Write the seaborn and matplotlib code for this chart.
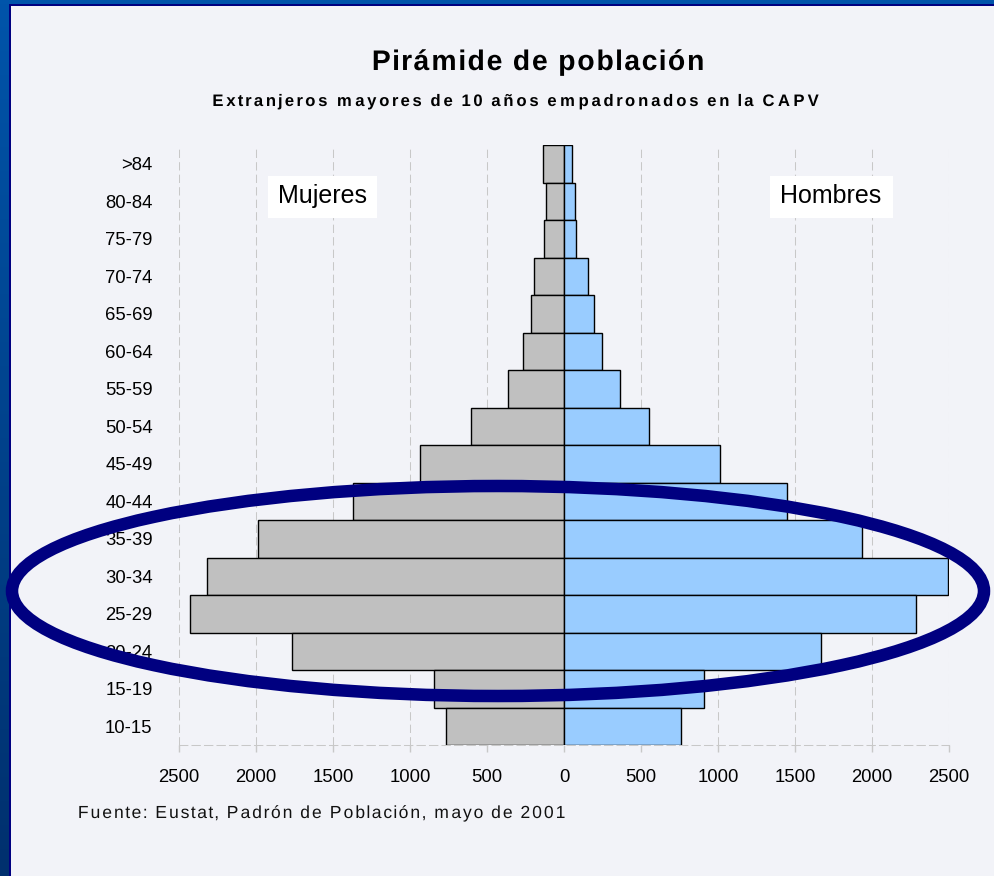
import numpy as np
import pandas as pd
import matplotlib
matplotlib.use("Agg")
import matplotlib.pyplot as plt
from matplotlib.patches import Ellipse, Rectangle
from matplotlib.path import Path
from matplotlib.transforms import Affine2D
from matplotlib.patheffects import AbstractPathEffect
from matplotlib.colors import LinearSegmentedColormap
import seaborn as sns

# ---- data ----
ages = [">84", "80-84", "75-79", "70-74", "65-69", "60-64", "55-59", "50-54",
        "45-49", "40-44", "35-39", "30-34", "25-29", "20-24", "15-19", "10-15"]
mujeres = [134, 119, 132, 193, 214, 266, 364, 604, 937, 1368, 1987, 2320, 2426, 1764, 844, 768]
hombres = [50, 71, 80, 156, 197, 249, 364, 550, 1015, 1446, 1937, 2494, 2283, 1667, 911, 762]
xticks = [-2500, -2000, -1500, -1000, -500, 0, 500, 1000, 1500, 2000, 2500]
xtick_labels = ["2500", "2000", "1500", "1000", "500", "0", "500", "1000", "1500", "2000", "2500"]

title = "Pirámide de población"
subtitle = "Extranjeros mayores de 10 años empadronados en la CAPV"
source = "Fuente: Eustat, Padrón de Población, mayo de 2001"
label_left = "Mujeres"
label_right = "Hombres"


class LetterSpread(AbstractPathEffect):
    """Spreads glyph contours horizontally (letter spacing) from the left edge."""

    def __init__(self, factor):
        super().__init__()
        self.factor = factor

    def draw_path(self, renderer, gc, tpath, affine, rgbFace=None):
        p = affine.transform_path(tpath)
        verts = p.vertices.copy()
        codes = p.codes
        if codes is None or len(verts) == 0:
            renderer.draw_path(gc, p, Affine2D(), rgbFace)
            return
        valid = codes != Path.CLOSEPOLY
        x0 = verts[valid, 0].min()
        starts = list(np.nonzero(codes == Path.MOVETO)[0]) + [len(codes)]
        for a, b in zip(starts[:-1], starts[1:]):
            seg = np.arange(a, b)
            sv = seg[valid[a:b]]
            if len(sv) == 0:
                continue
            cx = 0.5 * (verts[sv, 0].min() + verts[sv, 0].max())
            verts[seg, 0] += (self.factor - 1.0) * (cx - x0)
        renderer.draw_path(gc, Path(verts, codes), Affine2D(), rgbFace)


sns.set_theme(style="white")
plt.rcParams["font.family"] = ["Liberation Sans", "DejaVu Sans"]

W, H = 995, 876
fig = plt.figure(figsize=(W / 100, H / 100), dpi=100)
fig.patch.set_facecolor("#F2F3F8")

# background frame (pixel coords)
bg = fig.add_axes([0, 0, 1, 1], zorder=-5)
bg.axis("off")
grad = np.linspace(0, 1, 256).reshape(-1, 1)
cmap = LinearSegmentedColormap.from_list("frame", ["#0054AA", "#00306E"])
bg.imshow(grad, cmap=cmap, extent=[0, 9, H, 0], aspect="auto", zorder=1)
bg.add_patch(Rectangle((0, 0), W, 4, color="#0054AA", lw=0, zorder=1))
bg.add_patch(Rectangle((9, 4), 2, H, color="#000080", lw=0, zorder=2))
bg.add_patch(Rectangle((9, 4), W, 2, color="#000080", lw=0, zorder=2))
bg.set_xlim(0, W)
bg.set_ylim(H, 0)

# main axes
ax = fig.add_axes([179 / W, (H - 745) / H, 770 / W, 600 / H], zorder=1)
ax.set_facecolor("none")

df_m = pd.DataFrame({"edad": ages, "valor": -np.array(mujeres)})
df_h = pd.DataFrame({"edad": ages, "valor": np.array(hombres)})
sns.barplot(data=df_m, x="valor", y="edad", order=ages, orient="h", color="#C0C0C0",
            saturation=1, width=1.0, edgecolor="black", linewidth=1.0, ax=ax)
sns.barplot(data=df_h, x="valor", y="edad", order=ages, orient="h", color="#99CCFF",
            saturation=1, width=1.0, edgecolor="black", linewidth=1.0, ax=ax)

ax.set_xlim(-2500, 2500)
ax.set_ylim(len(ages) - 0.5, -0.5)
ax.set_xlabel("")
ax.set_ylabel("")
ax.set_xticks(xticks)
ax.set_xticklabels(xtick_labels)
ax.tick_params(axis="x", length=5, width=1, color="#C8C8C8", pad=12, labelsize=13.3,
               labelcolor="black", bottom=True)
ax.tick_params(axis="y", length=0, pad=19, labelsize=13.3, labelcolor="black")
ax.set_axisbelow(True)
ax.xaxis.grid(True, color="#C8C8C8", lw=0.75, linestyle=(0, (8, 4)))
ax.yaxis.grid(False)
for s in ["top", "right", "left"]:
    ax.spines[s].set_visible(False)
ax.spines["bottom"].set_color("#C8C8C8")
ax.spines["bottom"].set_linewidth(0.75)
ax.spines["bottom"].set_linestyle((0, (8, 4)))

# foreground overlay (pixel coords)
fg = fig.add_axes([0, 0, 1, 1], zorder=10)
fg.set_xlim(0, W)
fg.set_ylim(H, 0)
fg.axis("off")
fg.patch.set_alpha(0)

t_title = fg.text(371, 70, title, ha="left", va="baseline", fontsize=20.4,
                  fontweight="bold", color="black")
t_sub = fg.text(211, 106, subtitle, ha="left", va="baseline", fontsize=12,
                fontweight="bold", color="black")
t_src = fg.text(77, 818, source, ha="left", va="baseline", fontsize=12.6, color="#111111")

fg.add_patch(Rectangle((268, 176), 109, 42, facecolor="white", edgecolor="none", zorder=3))
fg.add_patch(Rectangle((770, 176), 123, 42, facecolor="white", edgecolor="none", zorder=3))
fg.text(322, 203, label_left, ha="center", va="baseline", fontsize=18, color="black", zorder=4)
fg.text(831, 203, label_right, ha="center", va="baseline", fontsize=18, color="black", zorder=4)

fg.add_patch(Ellipse((498, 591), 972, 210, fill=False, edgecolor="#000080", lw=9, zorder=5))

# letter spacing to match the target text widths
fig.canvas.draw()
renderer = fig.canvas.get_renderer()
for t, target in [(t_title, 335), (t_sub, 607), (t_src, 489)]:
    w = t.get_window_extent(renderer).width
    t.set_path_effects([LetterSpread(target / w)])

fig.savefig("out.png", dpi=100, facecolor=fig.get_facecolor())
